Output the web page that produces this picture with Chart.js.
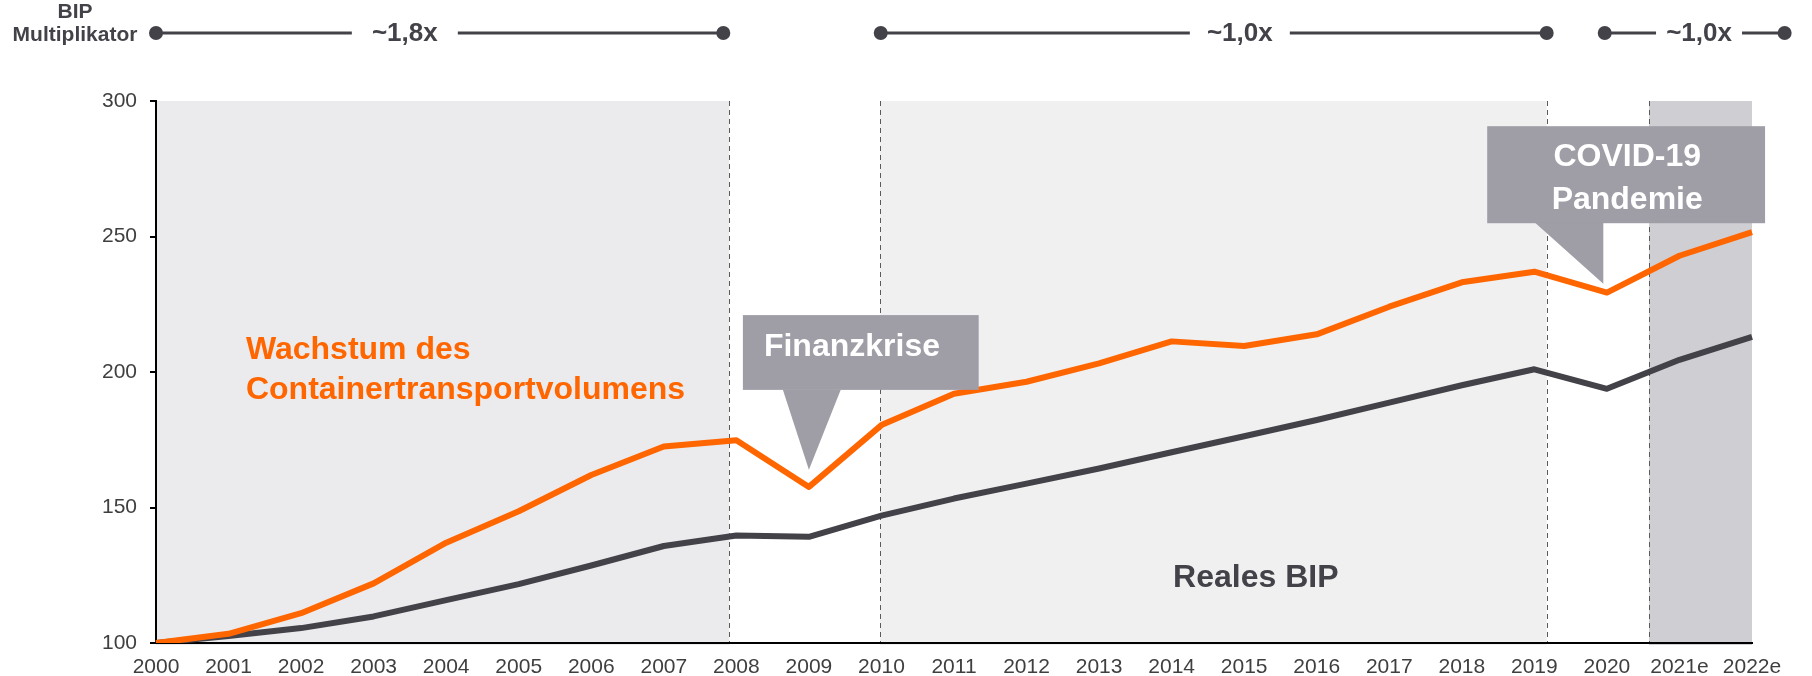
<!DOCTYPE html>
<html><head><meta charset="utf-8">
<script src="https://cdn.jsdelivr.net/npm/chart.js@4.4.0/dist/chart.umd.min.js"></script>
<style>html,body{margin:0;padding:0;background:#fff;}#wrap{width:1812px;height:676px;position:relative;}</style>
</head><body><div id="wrap"><canvas id="c" width="1812" height="676" style="width:1812px;height:676px;display:block;"></canvas></div>
<script>
// ---- data ----
const categories = ['2000','2001','2002','2003','2004','2005','2006','2007','2008','2009','2010','2011','2012','2013','2014','2015','2016','2017','2018','2019','2020','2021e','2022e'];
const containerVolume = [100,103.4,111,122,137,148.6,162,172.5,174.8,157.6,180.4,192,196.4,203.2,211.3,209.6,213.9,224.1,233.1,237,229.3,242.9,251.6];
const realGDP = [100,102.6,105.5,109.8,115.8,121.7,128.6,135.8,139.7,139.2,147,153.3,158.8,164.4,170.4,176.3,182.3,188.7,195.1,201,193.8,204.5,213];
const yTicks = [100,150,200,250,300];
const multiplierLabels = ['~1,8x','~1,0x','~1,0x'];
const multiplierRanges = [[0.0,7.82],[9.99,19.17],[19.97,22.45]];
const multiplierCenters = [3.43,14.94,21.27];
const phaseRanges = [[0,7.9],[9.98,19.17],[20.58,22]];
const dividerPositions = [7.9,9.98,19.17,20.58];

// ---- styles ----
const C = { orange:'#ff6600', dark:'#434249', box:'#9f9da6', shades:['#ebebed','#f0f0f0','#cfced3'], tick:'#3f3f3f' };
const FONT = '"Liberation Sans", Arial, Helvetica, sans-serif';
const gapHalf = [53,50,43];

Chart.defaults.font.family = FONT;

const decor = {
  id:'decor',
  beforeDraw(chart){
    const {ctx, chartArea:a, scales:{x}} = chart;
    ctx.save();
    phaseRanges.forEach((r,i)=>{
      const x0=x.getPixelForValue(r[0]), x1=x.getPixelForValue(r[1]);
      ctx.fillStyle=C.shades[i];
      ctx.fillRect(x0,a.top,x1-x0,a.bottom-a.top+2);
    });
    ctx.strokeStyle='#5a5a5a'; ctx.lineWidth=1; ctx.setLineDash([5,4]);
    dividerPositions.forEach(v=>{
      const px=Math.round(x.getPixelForValue(v))+0.5;
      ctx.beginPath(); ctx.moveTo(px,a.top); ctx.lineTo(px,a.bottom); ctx.stroke();
    });
    ctx.restore();
  },
  afterDraw(chart){
    const {ctx, scales:{x,y}} = chart;
    const X=v=>x.getPixelForValue(v), Y=v=>y.getPixelForValue(v);
    ctx.save();
    function callout(x0,x1,yt,yb,p0,p1,tx,ty){
      ctx.fillStyle=C.box;
      ctx.fillRect(X(x0),Y(yt),X(x1)-X(x0),Y(yb)-Y(yt));
      ctx.beginPath();
      ctx.moveTo(X(p0),Y(yb)-0.5); ctx.lineTo(X(p1),Y(yb)-0.5); ctx.lineTo(X(tx),Y(ty)); ctx.closePath(); ctx.fill();
    }
    callout(8.09,11.34,221.0,193.4,8.64,9.44,9.0,163.9);
    callout(18.35,22.18,290.7,254.9,19.01,19.95,19.95,232.6);
    ctx.fillStyle='#fff';
    ctx.font='bold 32px '+FONT;
    ctx.textBaseline='middle';
    ctx.textAlign='left';
    ctx.fillText('Finanzkrise',X(8.38),Y(209.2));
    ctx.textAlign='center';
    ctx.fillText('COVID-19',X(20.28),Y(279.2));
    ctx.fillText('Pandemie',X(20.28),Y(263.3));
    ctx.fillStyle=C.orange; ctx.textAlign='left';
    ctx.fillText('Wachstum des',X(1.24),Y(208.1));
    ctx.fillText('Containertransportvolumens',X(1.24),Y(193.4));
    ctx.fillStyle=C.dark; ctx.textAlign='center';
    ctx.fillText('Reales BIP',X(15.16),Y(124.1));
    const by=33;
    ctx.font='bold 21px '+FONT;
    ctx.fillText('BIP',75,12);
    ctx.fillText('Multiplikator',75,35);
    ctx.strokeStyle=C.dark; ctx.lineWidth=3;
    ctx.font='bold 26px '+FONT;
    multiplierRanges.forEach((r,i)=>{
      const a=X(r[0]), b=X(r[1]), c=X(multiplierCenters[i]), g=gapHalf[i];
      ctx.beginPath(); ctx.moveTo(a,by); ctx.lineTo(c-g,by); ctx.moveTo(c+g,by); ctx.lineTo(b,by); ctx.stroke();
      ctx.fillStyle=C.dark;
      [a,b].forEach(px=>{ctx.beginPath(); ctx.arc(px,by,7,0,Math.PI*2); ctx.fill();});
      ctx.fillText(multiplierLabels[i],c,by+1);
    });
    ctx.restore();
  }
};

new Chart(document.getElementById('c'),{
  type:'line',
  data:{ labels:categories, datasets:[
    {label:'Containertransportvolumen', data:containerVolume, borderColor:C.orange, borderWidth:6, pointRadius:0, tension:0, borderJoinStyle:'round', borderCapStyle:'butt'},
    {label:'Reales BIP', data:realGDP, borderColor:C.dark, borderWidth:6, pointRadius:0, tension:0, borderJoinStyle:'round', borderCapStyle:'butt'}
  ]},
  options:{
    responsive:false, maintainAspectRatio:false, animation:false, devicePixelRatio:1,
    layout:{padding:{top:101,right:60,left:0,bottom:0}},
    plugins:{legend:{display:false}, tooltip:{enabled:false}},
    scales:{
      x:{ type:'category', offset:false,
        grid:{display:false, drawTicks:false},
        border:{display:true,color:'#000',width:2},
        ticks:{color:C.tick, font:{size:21}, padding:12, maxRotation:0, autoSkip:false},
        afterFit(s){s.height=33;}
      },
      y:{ min:100, max:300,
        afterBuildTicks(s){s.ticks=yTicks.map(v=>({value:v}));},
        grid:{display:true, drawOnChartArea:false, drawTicks:true, tickLength:6, color:'#000', lineWidth:2},
        border:{display:true,color:'#000',width:2},
        ticks:{color:C.tick, font:{size:21}, padding:13},
        afterFit(s){s.width=156;}
      }
    }
  },
  plugins:[decor]
});
</script></body></html>
